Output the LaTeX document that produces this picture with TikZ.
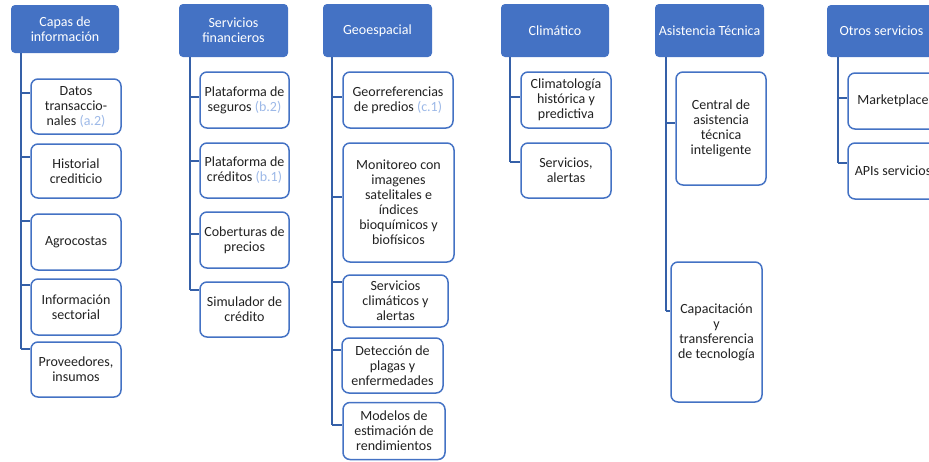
\documentclass[tikz,border=0pt]{standalone}
\usepackage{fontspec}
\setmainfont{Carlito}
\usetikzlibrary{calc}
\definecolor{headBlue}{HTML}{4472C4}
\definecolor{lineBlue}{HTML}{3560A8}
\definecolor{refBlue}{HTML}{9DB9E8}
\definecolor{textGray}{HTML}{222222}
\newcommand{\refno}[1]{\textcolor{refBlue}{(#1)}}
\newcommand{\twig}[3]{%%
  %% trunk x, tick y, child node
  \coordinate (#3Tick) at (#1,#2);
  \draw[twigStyle] (#3Tick) -- (#3Tick -| #3.west);
}

\begin{document}
\begin{tikzpicture}[%%
  x=1pt,y=-1pt,%%
  headStyle/.style={rectangle,rounded corners=4pt,fill=headBlue,text=white,%%
    align=center,inner sep=0pt,font=\fontsize{14}{15}\selectfont},%%
  itemStyle/.style={rectangle,rounded corners=7pt,draw=headBlue,line width=1.5pt,%%
    fill=white,text=textGray,align=center,inner sep=0pt,%%
    font=\fontsize{14}{15}\selectfont},%%
  trunkStyle/.style={-,lineBlue,line width=2pt},%%
  twigStyle/.style={-,lineBlue,line width=1.6pt}
]
%%
\useasboundingbox (0,0) rectangle (929,461);
\clip (0,0) rectangle (929,461);
%%
%% The headers.
\node[headStyle,minimum width=108pt,minimum height=48pt] (capas) at (65,29) {Capas de\\información};
\node[headStyle,minimum width=109pt,minimum height=53pt] (financ) at (233.5,30.5) {Servicios\\financieros};
\node[headStyle,minimum width=109pt,minimum height=53pt] (geo) at (377.5,30.5) {Geoespacial};
\node[headStyle,minimum width=108pt,minimum height=53pt] (clima) at (555,30.5) {Climático};
\node[headStyle,minimum width=109pt,minimum height=53pt] (asist) at (709.5,30.5) {Asistencia Técnica};
\node[headStyle,minimum width=109pt,minimum height=52pt] (otros) at (881.5,31) {Otros servicios};
%%
%% Capas de información.
\node[itemStyle,minimum width=90pt,minimum height=55pt] (datos) at (76,106.5) {Datos\\transaccio-\\nales \refno{a.2}};
\node[itemStyle,minimum width=90pt,minimum height=54pt] (historial) at (76,171) {Historial\\crediticio};
\node[itemStyle,minimum width=90pt,minimum height=56pt] (agro) at (76,242) {Agrocostas};
\node[itemStyle,minimum width=90pt,minimum height=56pt] (sector) at (76,307) {Información\\sectorial};
\node[itemStyle,minimum width=90pt,minimum height=55pt] (prov) at (76,369.5) {Proveedores,\\insumos};
%%
%% Servicios financieros.
\node[itemStyle,minimum width=89pt,minimum height=56pt] (seguros) at (244.5,100) {Plataforma de\\seguros \refno{b.2}};
\node[itemStyle,minimum width=89pt,minimum height=55pt] (creditos) at (244.5,170.5) {Plataforma de\\créditos \refno{b.1}};
\node[itemStyle,minimum width=89pt,minimum height=56pt] (cobert) at (244.5,240) {Coberturas de\\precios};
\node[itemStyle,minimum width=89pt,minimum height=55pt] (simul) at (244.5,309.5) {Simulador de\\crédito};
%%
%% Geoespacial.
\node[itemStyle,minimum width=110pt,minimum height=56pt] (georref) at (398,100) {Georreferencias\\de predios \refno{c.1}};
\node[itemStyle,minimum width=111pt,minimum height=119pt] (monit) at (398.5,202.5) {Monitoreo con\\imagenes\\satelitales e\\índices\\bioquímicos y\\biofísicos};
\node[itemStyle,minimum width=105pt,minimum height=52pt] (servclim) at (395.5,301) {Servicios\\climáticos y\\alertas};
\node[itemStyle,minimum width=101pt,minimum height=55pt] (plagas) at (392.5,365.5) {Detección de\\plagas y\\enfermedades};
\node[itemStyle,minimum width=102pt,minimum height=57pt] (modelos) at (394,431) {Modelos de\\estimación de\\rendimientos};
%%
%% Climático.
\node[itemStyle,minimum width=90pt,minimum height=56pt] (climat) at (566,100) {Climatología\\histórica y\\predictiva};
\node[itemStyle,minimum width=90pt,minimum height=55pt] (alertas) at (566,170.5) {Servicios,\\alertas};
%%
%% Asistencia Técnica.
\node[itemStyle,minimum width=90pt,minimum height=113pt] (central) at (721,128.5) {Central de\\asistencia\\técnica\\inteligente};
\node[itemStyle,minimum width=91pt,minimum height=140pt] (capacit) at (716.5,332) {Capacitación\\y\\transferencia\\de tecnología};
%%
%% Otros servicios.
\node[itemStyle,minimum width=90pt,minimum height=56pt] (market) at (893,101) {Marketplace};
\node[itemStyle,minimum width=90pt,minimum height=56pt] (apis) at (893,171) {APIs servicios};
%%
%% The branches.
\twig{21}{93}{datos}
\twig{21}{157}{historial}
\twig{21}{221}{agro}
\twig{21}{285}{sector}
\twig{21}{349}{prov}
\draw[trunkStyle] (capas.south -| datosTick) -- (provTick);
%%
\twig{190}{97}{seguros}
\twig{190}{161}{creditos}
\twig{190}{234}{cobert}
\twig{190}{290}{simul}
\draw[trunkStyle] (financ.south -| segurosTick) -- (simulTick);
%%
\twig{332}{97}{georref}
\twig{332}{197}{monit}
\twig{332}{282}{servclim}
\twig{332}{350}{plagas}
\twig{332}{425}{modelos}
\draw[trunkStyle] (geo.south -| georrefTick) -- (modelosTick);
%%
\twig{510}{97}{climat}
\twig{510}{162}{alertas}
\draw[trunkStyle] (clima.south -| climatTick) -- (alertasTick);
%%
\twig{666}{123}{central}
\twig{666}{311}{capacit}
\draw[trunkStyle] (asist.south -| centralTick) -- (capacitTick);
%%
\twig{838}{98}{market}
\twig{838}{163}{apis}
\draw[trunkStyle] (otros.south -| marketTick) -- (apisTick);
\end{tikzpicture}
\end{document}
